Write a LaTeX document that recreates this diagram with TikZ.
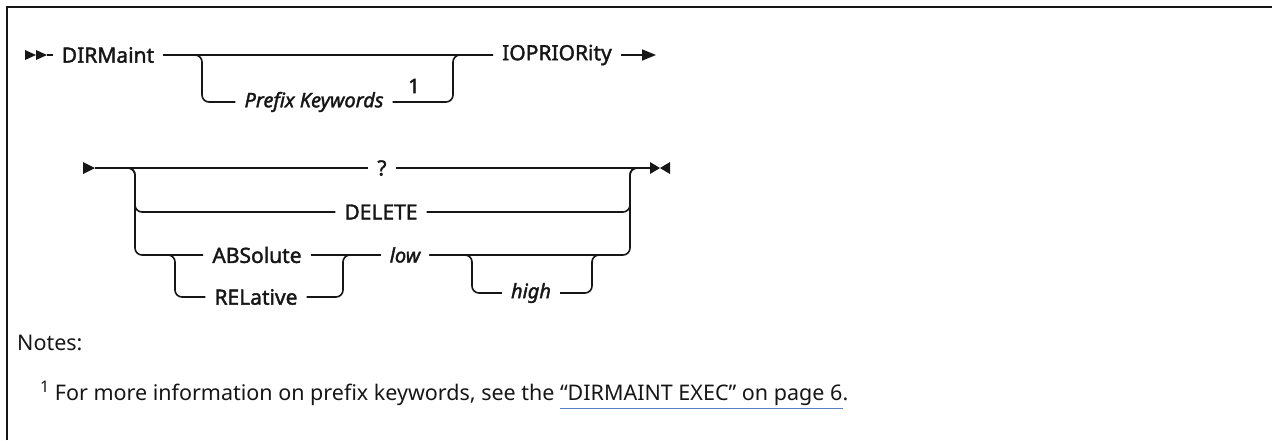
\documentclass[tikz,border=0pt]{standalone}
\usepackage{fontspec}
\setmainfont{Noto Sans}
\newfontfamily\labfont[FakeBold=1.8]{Noto Sans}
\newfontfamily\notefont{Noto Sans}
\usetikzlibrary{arrows.meta}
\definecolor{ink}{HTML}{161616}
\definecolor{linkblue}{HTML}{5B7FC4}
\begin{document}
\begin{tikzpicture}[x=1pt,y=-1pt,
  lab/.style={font=\labfont\fontsize{21}{24}\selectfont, text=ink, inner ysep=0pt, inner xsep=9pt},
  var/.style={lab, font=\labfont\itshape\fontsize{20}{23}\selectfont},
  supn/.style={font=\labfont\fontsize{20}{23}\selectfont, text=ink, inner sep=0pt},
  rail/.style={draw=ink, line width=1.6pt, rounded corners=7pt},
  notef/.style={font=\notefont\fontsize{21.5}{25}\selectfont, text=ink, inner sep=0pt},
  tip/.style={fill=ink}]
\useasboundingbox (0,0) rectangle (1272,440);
% frame
\draw[ink, line width=2.4pt] (7,440) -- (7,7) -- (1272,7);

% ---------- row 1 ----------
\coordinate (s1) at (47,55);
\coordinate (b1) at (202,102);
\coordinate (e1) at (453,55);
\coordinate (a1) at (656,55);
\fill[tip] (25,50) -- (36,55) -- (25,60) -- cycle;
\fill[tip] (36,50) -- (47,55) -- (36,60) -- cycle;
\node[lab] (dir) at (108,55) {DIRMaint};
\node[var] (pk) at (314,102) {Prefix Keywords};
\node[supn] (n1) at (414,86) {1};
\node[lab] (io) at (557,55) {IOPRIORity};
\draw[rail] (s1) -- (dir.west);
\draw[rail] (dir.east) -- (io.west);
\draw[rail] (dir.east) -| (b1) -- (pk.west);
\draw[rail] (pk.east) -| (e1) -- (io.west);
\draw[rail, -{Triangle[length=14pt,width=11pt]}] (io.east) -- (a1);

% ---------- row 2 ----------
\coordinate (st2) at (95,168);
\coordinate (en2) at (650,168);
\coordinate (lv1) at (135,212);
\coordinate (lv2) at (135,255);
\coordinate (nj) at (150,255);
\coordinate (nv) at (175,297);
\coordinate (mj) at (343,255);
\coordinate (rv) at (630,168);
\coordinate (hv) at (472,293);
\coordinate (hu) at (592,255);
\coordinate (hr) at (610,255);
\fill[tip] (83,162) -- (95,168) -- (83,174) -- cycle;
\fill[tip] (650,162) -- (660,168) -- (650,174) -- cycle;
\fill[tip] (670,162) -- (660,168) -- (670,174) -- cycle;
\node[lab] (q) at (382,168) {?};
\node[lab] (del) at (381,212) {DELETE};
\node[lab] (abs) at (257,255) {ABSolute};
\node[lab] (rel) at (256,297) {RELative};
\node[var] (low) at (405,255) {low};
\node[var] (high) at (531,293) {high};
\draw[rail] (st2) -- (q.west);
\draw[rail] (q.east) -- (en2);
\draw[rail] (st2) -| (lv1) -- (del.west);
\draw[rail] (st2) -| (lv2) -- (abs.west);
\draw[rail] (nj) -| (nv) -- (rel.west);
\draw[rail] (abs.east) -- (low.west);
\draw[rail] (rel.east) -| (mj) -- (low.west);
\draw[rail] (del.east) -| (rv) -- (en2);
\draw[rail] (low.east) -| (rv) -- (en2);
\draw[rail] (low.east) -| (hv) -- (high.west);
\draw[rail] (high.east) -| (hu) -- (hr);

% ---------- notes ----------
\node[notef, anchor=west] (notes) at (17,343) {Notes:};
\node[notef, anchor=base west] (fn) at (40,400) {\raisebox{8pt}{\fontsize{16}{18}\selectfont 1} For more information on prefix keywords, see the };
\node[notef, anchor=base west] (lk) at (fn.base east) {\kern 5pt“DIRMAINT EXEC” on page 6};
\node[notef, anchor=base west] (dot) at (lk.base east) {.};
\draw[linkblue, line width=1.2pt] ([xshift=5pt,yshift=-3pt]lk.south west) -- ([yshift=-3pt]lk.south east);
\end{tikzpicture}
\end{document}
